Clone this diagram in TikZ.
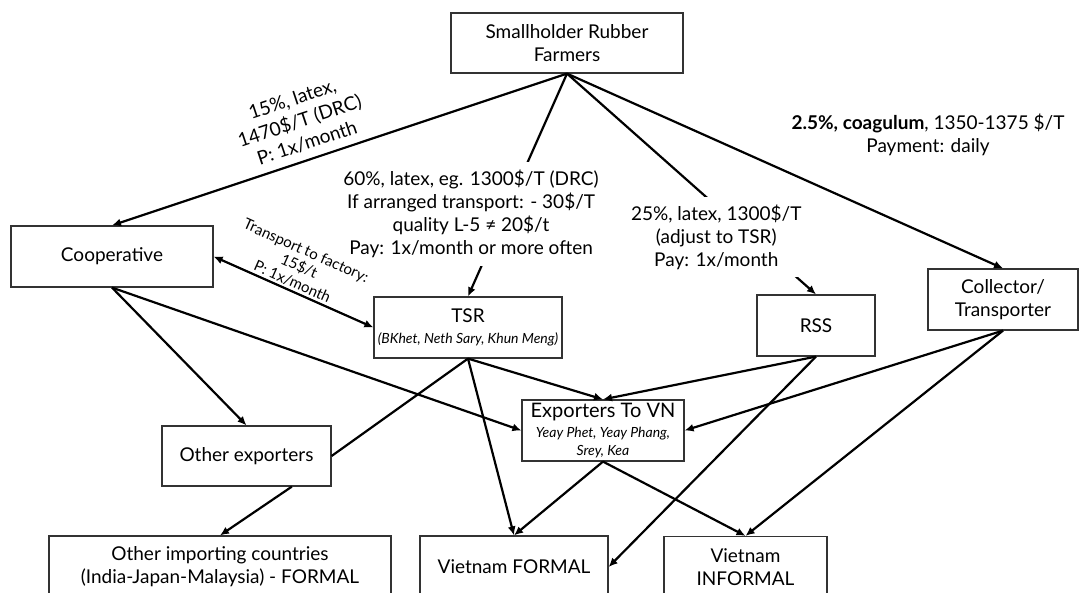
\documentclass[tikz,border=0pt]{standalone}
\usepackage{fontspec}
\setmainfont{Lato}
\usetikzlibrary{arrows.meta}
\newcommand{\firms}[1]{{\fontsize{7}{8.5}\selectfont\itshape #1}}

\begin{document}
\begin{tikzpicture}[x=0.5pt, y=-0.5pt,
    box/.style={draw=black!80, line width=0.6pt, align=center, inner sep=1pt,
      minimum height=30.5pt, font=\fontsize{9.5}{11.5}\selectfont},
    lbl/.style={align=center, inner sep=4pt, font=\fontsize{9.5}{11.5}\selectfont},
    tiny/.style={align=center, inner sep=1pt, font=\fontsize{7.5}{8.5}\selectfont},
    flow/.style={line width=1.1pt, -{Latex[length=4.5pt,width=4pt]}},
    both/.style={line width=1.1pt, {Latex[length=4.5pt,width=4pt]}-{Latex[length=4.5pt,width=4pt]}}]
  \useasboundingbox (0,0) rectangle (1082,593);
  \clip (0,0) rectangle (1082,593);

  \node[box, minimum width=116pt, minimum height=30pt] (farmers) at (567,43) {Smallholder Rubber\\Farmers};
  \node[box, minimum width=101pt] (coop) at (112,256.5) {Cooperative};
  \node[box, minimum width=94pt] (tsr) at (468,327.5) {TSR\\[-1pt]\firms{(BKhet, Neth Sary, Khun Meng)}};
  \node[box, minimum width=59pt] (rss) at (816,325.5) {RSS};
  \node[box, minimum width=75pt] (coll) at (1003,299.5) {Collector/\\Transporter};
  \node[box, minimum width=81pt, font=\fontsize{10}{11}\selectfont] (expvn) at (603,430.5)
    {Exporters To VN\\[-1pt]\firms{Yeay Phet, Yeay Phang,}\\[-2pt]\firms{Srey, Kea}};
  \node[box, minimum width=84.5pt, minimum height=30pt] (othexp) at (246.5,456) {Other exporters};
  \node[box, minimum width=171pt, minimum height=31pt] (othimp) at (220,567) {Other importing countries\\(India-Japan-Malaysia) - FORMAL};
  \node[box, minimum width=94pt, minimum height=31pt] (vnf) at (514,567) {Vietnam FORMAL};
  \node[box, minimum width=81.5pt, minimum height=31pt] (vni) at (745.5,567.5) {Vietnam\\INFORMAL};

  \draw[flow] (farmers.south) -- (coop.north)
    node[lbl, inner sep=1pt, sloped, above=3pt, pos=0.56] (coopnote) {15\%, latex,\\1470\$/T (DRC)\\P: 1x/month};
  \draw[flow] (farmers.south) -- (tsr.north)
    node[lbl, fill=white, pos=0.63, xshift=-16.8pt] (tsrnote) {60\%, latex, eg. 1300\$/T (DRC)\\If arranged transport: - 30\$/T\\quality L-5 ≠ 20\$/t\\Pay: 1x/month or more often};
  \draw[flow] (farmers.south) -- (rss.north)
    node[lbl, fill=white, pos=0.74, xshift=-17.5pt] (rssnote) {25\%, latex, 1300\$/T\\(adjust to TSR)\\Pay: 1x/month};
  \draw[flow] (farmers.south) -- (coll.north);
  \node[lbl] (collnote) at (928,135) {\textbf{2.5\%, coagulum}, 1350-1375 \$/T\\Payment: daily};

  \draw[both] (coop.east) -- (tsr.west)
    node[tiny, sloped, above, pos=0.47] (haul) {Transport to factory:\\15\$/t\\P: 1x/month};
  \draw[flow] (coop.south) -- (othexp.north);
  \draw[flow] (coop.south) -- (expvn.west);
  \draw[flow] (tsr.south) -- (expvn.north);
  \draw[line width=1.1pt] (tsr.south) -- (othexp.east);
  \draw[flow] (tsr.south) -- (vnf.north);
  \draw[flow] (rss.south) -- (expvn.north);
  \draw[flow] (rss.south) -- (vnf.east);
  \draw[flow] (coll.south) -- (expvn.east);
  \draw[flow] (coll.south) -- (vni.north);
  \draw[flow] (expvn.south) -- (vnf.north);
  \draw[flow] (expvn.south) -- (vni.north);
  \draw[flow] (othexp.-34) -- (othimp.north);
\end{tikzpicture}
\end{document}
